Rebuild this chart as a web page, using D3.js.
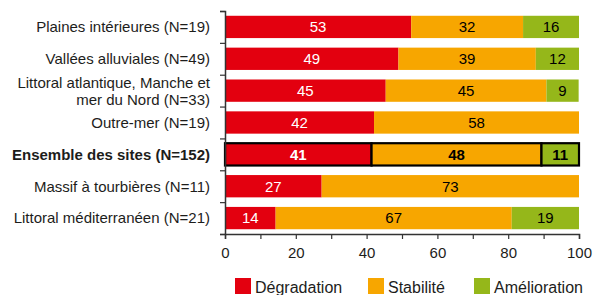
<!DOCTYPE html>
<html>
<head>
<meta charset="utf-8">
<script src="https://cdn.jsdelivr.net/npm/d3@7"></script>
<style>
  body { margin: 0; background: #fff; }
  svg { display: block; font-family: "Liberation Sans", Arial, sans-serif; }
</style>
</head>
<body>
<svg id="chart" width="594" height="295"></svg>
<script>
let categories = [
  "Plaines intérieures (N=19)",
  "Vallées alluviales (N=49)",
  "Littoral atlantique, Manche et|mer du Nord (N=33)",
  "Outre-mer (N=19)",
  "Ensemble des sites (N=152)",
  "Massif à tourbières (N=11)",
  "Littoral méditerranéen (N=21)"
]
// shares in %, labels show them rounded
let degradation = [52.6, 49.0, 45.4, 42.1, 41.4, 27.3, 14.3]
let stabilite = [31.6, 38.8, 45.4, 57.9, 48.0, 72.7, 66.7]
let amelioration = [15.8, 12.2, 9.1, 0, 10.6, 0, 19.0]
let seriesNames = ["Dégradation", "Stabilité", "Amélioration"]
let seriesColors = ["#e3000f", "#f7a600", "#95b71a"]
let xTicks = [0, 10, 20, 30, 40, 50, 60, 70, 80, 90, 100]
let highlight = "Ensemble des sites (N=152)"

let svg = d3.select("#chart")
let textColor = "#1d1d1b"

let x = d3.scaleLinear().domain([0, 100]).range([225, 579])
let y = d3.scaleBand().domain(categories).range([11, 234]).paddingInner(0.3).paddingOuter(0.15)
let yEdges = d3.scaleLinear().domain([0, categories.length]).range([11, 234])

let rows = categories.map((c, i) => {
  let vals = [degradation[i], stabilite[i], amelioration[i]]
  let start = 0
  return {
    cat: c,
    segs: vals.map((v, k) => {
      let s = { x0: start, x1: Math.min(100, start + v), v: v, k: k }
      start += v
      return s
    }).filter(s => s.v > 0)
  }
})

// bars
let rowG = svg.selectAll('g.row')
  .data(rows)
  .enter()
  .append('g')
  .attr('class', 'row')

rowG.selectAll('rect')
  .data(d => d.segs.map(s => Object.assign({ cat: d.cat }, s)))
  .enter()
  .append('rect')
  .attr('x', d => x(d.x0))
  .attr('y', d => y(d.cat))
  .attr('width', d => x(d.x1) - x(d.x0))
  .attr('height', y.bandwidth())
  .attr('fill', d => seriesColors[d.k])
  .attr('stroke', d => d.cat === highlight ? '#000' : 'none')
  .attr('stroke-width', 2.2)

rowG.selectAll('text')
  .data(d => d.segs.map(s => Object.assign({ cat: d.cat }, s)))
  .enter()
  .append('text')
  .attr('x', d => x((d.x0 + d.x1) / 2))
  .attr('y', d => y(d.cat) + y.bandwidth() / 2)
  .attr('dy', '0.36em')
  .attr('text-anchor', 'middle')
  .attr('font-size', 15)
  .attr('font-weight', d => d.cat === highlight ? 'bold' : 'normal')
  .attr('fill', d => d.k === 0 ? '#fff' : '#000')
  .text(d => Math.round(d.v))

// left axis with ticks on band edges
let yAxis = svg.append('g')
  .attr('transform', 'translate(' + x(0) + ',0)')
  .call(d3.axisLeft(yEdges).tickValues(d3.range(categories.length + 1)).tickSize(5).tickFormat(''))
yAxis.select('.domain').attr('stroke', '#333').attr('stroke-width', 1.5)
yAxis.selectAll('.tick line').attr('stroke', '#333').attr('stroke-width', 1.2)

// category labels
let labels = svg.selectAll('text.cat')
  .data(categories)
  .enter()
  .append('text')
  .attr('class', 'cat')
  .attr('text-anchor', 'end')
  .attr('font-size', 15)
  .attr('fill', textColor)
  .attr('font-weight', d => d === highlight ? 'bold' : 'normal')
  .attr('transform', d => 'translate(210,' + (y(d) + y.bandwidth() / 2) + ')')

labels.each(function (d) {
  let lines = d.split('|')
  let t = d3.select(this)
  lines.forEach((line, i) => {
    t.append('tspan')
      .attr('x', 0)
      .attr('y', (i - (lines.length - 1) / 2) * 17)
      .attr('dy', '0.36em')
      .text(line)
  })
})

// bottom axis
let xAxis = svg.append('g')
  .attr('transform', 'translate(0,234)')
  .call(d3.axisBottom(x).tickValues(xTicks).tickSize(5).tickPadding(8)
    .tickFormat(d => d % 20 === 0 ? d : ''))
xAxis.select('.domain').attr('stroke', '#333').attr('stroke-width', 1.5)
xAxis.selectAll('.tick line').attr('stroke', '#333').attr('stroke-width', 1.2)
xAxis.selectAll('.tick text')
  .attr('font-size', 15)
  .attr('fill', textColor)
  .attr('font-family', '"Liberation Sans", Arial, sans-serif')

// legend
let legendX = [235, 368, 474]
let legend = svg.selectAll('g.legend')
  .data(seriesNames)
  .enter()
  .append('g')
  .attr('class', 'legend')
  .attr('transform', (d, i) => 'translate(' + legendX[i] + ',278)')

legend.append('rect')
  .attr('width', 16)
  .attr('height', 16)
  .attr('fill', (d, i) => seriesColors[i])

legend.append('text')
  .attr('x', 20)
  .attr('y', 15)
  .attr('font-size', 16)
  .attr('fill', textColor)
  .text(d => d)
</script>
</body>
</html>
